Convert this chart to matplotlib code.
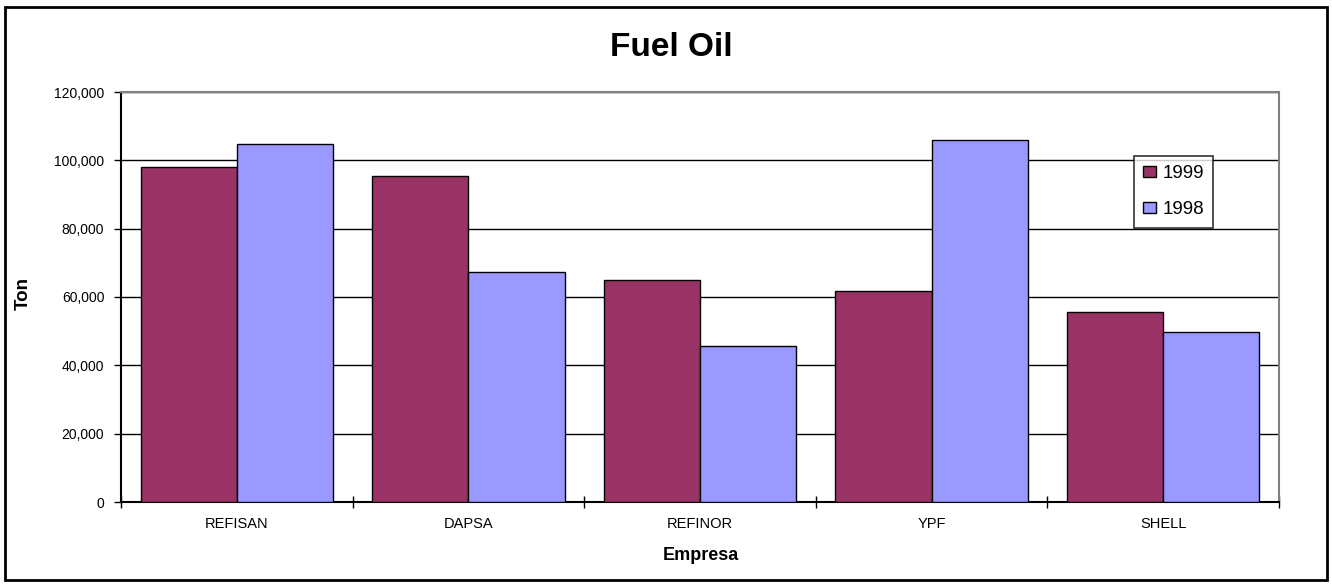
import matplotlib.pyplot as plt
import numpy as np
from matplotlib.ticker import FuncFormatter
from matplotlib.patches import Rectangle

plt.rcParams['font.family'] = 'Liberation Sans'

# data
empresas = ['REFISAN', 'DAPSA', 'REFINOR', 'YPF', 'SHELL']
ton_1999 = [98100, 95400, 65000, 61900, 55600]
ton_1998 = [104800, 67300, 45700, 106000, 49700]

fig = plt.figure(figsize=(13.32, 5.87), dpi=100)
ax = fig.add_axes([121 / 1332, 1 - 502 / 587, (1279 - 121) / 1332, (502 - 92) / 587])

# outer chart border
fig.patches.append(Rectangle((5 / 1332, 7 / 587), 1322 / 1332, 573 / 587,
                             transform=fig.transFigure, fill=False,
                             edgecolor='black', linewidth=2))

x = np.arange(len(empresas))
w = 0.415
ax.bar(x - w / 2, ton_1999, w, color='#993366', edgecolor='black', linewidth=1, label='1999', zorder=3)
ax.bar(x + w / 2, ton_1998, w, color='#9999FF', edgecolor='black', linewidth=1, label='1998', zorder=3)

ax.set_xlim(-0.5, len(empresas) - 0.5)
ax.set_ylim(0, 120000)
ax.set_yticks(np.arange(0, 120001, 20000))
ax.yaxis.set_major_formatter(FuncFormatter(lambda v, p: f'{int(v):,}'))
ax.yaxis.grid(True, color='black', linewidth=1, zorder=0)

# category ticks sit between groups
ax.set_xticks(x)
ax.set_xticklabels(empresas)
ax.set_xticks(np.arange(-0.5, len(empresas), 1), minor=True)
ax.tick_params(axis='x', which='major', length=0, labelsize=10.5, pad=11)
ax.tick_params(axis='x', which='minor', length=8, width=1, direction='inout')
ax.tick_params(axis='y', length=5, width=1, direction='out', labelsize=10, pad=7)

for side in ['top', 'right']:
    ax.spines[side].set_color('#808080')
    ax.spines[side].set_linewidth(1.5)
for side in ['left', 'bottom']:
    ax.spines[side].set_color('black')
    ax.spines[side].set_linewidth(1.5)

fig.text(671 / 1332, 1 - 47 / 587, 'Fuel Oil', ha='center', va='center',
         fontsize=24, fontweight='bold')
fig.text(23 / 1332, 1 - 293 / 587, 'Ton', ha='center', va='center', rotation=90,
         fontsize=13.5, fontweight='bold')
fig.text(701 / 1332, 1 - 556 / 587, 'Empresa', ha='center', va='center',
         fontsize=13, fontweight='bold')

leg = ax.legend(loc='upper left', bbox_to_anchor=(1013 / 1158, (502 - 156) / 410),
                fontsize=13.5, frameon=True, fancybox=False, handlelength=0.65,
                handleheight=0.5, handletextpad=0.35, borderpad=0.5, labelspacing=1.0,
                borderaxespad=0)
leg.get_frame().set_edgecolor('black')
leg.get_frame().set_linewidth(1.2)

fig.savefig('out.png', dpi=100)
